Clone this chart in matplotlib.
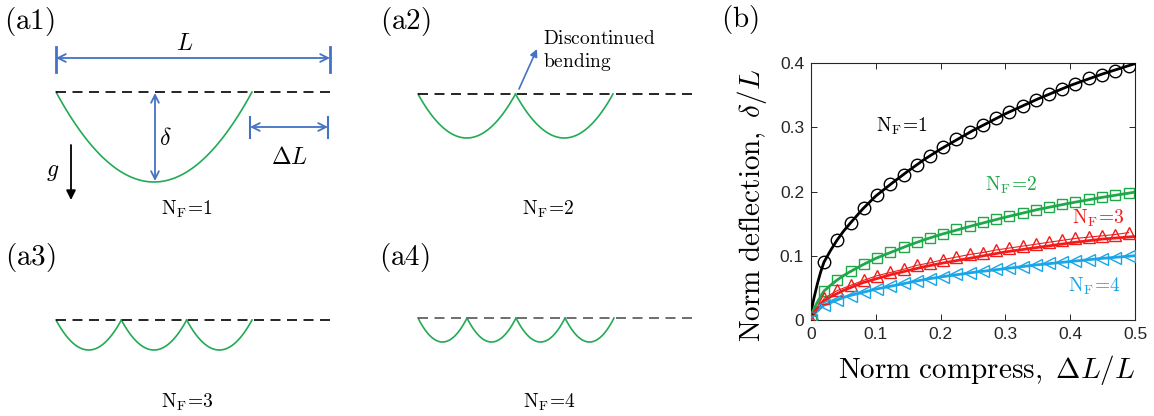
import numpy as np
import matplotlib
matplotlib.use("Agg")
import matplotlib.pyplot as plt

plt.rcParams['mathtext.fontset'] = 'cm'

# ---------------- data (panel b) ----------------
x_markers = [0, 0.0204, 0.0408, 0.0612, 0.0817, 0.102, 0.1225, 0.143, 0.163, 0.184,
             0.204, 0.2245, 0.245, 0.265, 0.286, 0.306, 0.327, 0.347, 0.367, 0.388,
             0.408, 0.429, 0.449, 0.469, 0.49]
nf1_markers = [0, 0.091, 0.125, 0.151, 0.174, 0.195, 0.211, 0.226, 0.242, 0.256, 0.269,
               0.282, 0.293, 0.304, 0.314, 0.324, 0.333, 0.343, 0.351, 0.360, 0.368,
               0.376, 0.381, 0.388, 0.395]
nf2_markers = [0, 0.045, 0.063, 0.076, 0.087, 0.097, 0.106, 0.113, 0.121, 0.128, 0.134,
               0.141, 0.147, 0.152, 0.157, 0.162, 0.167, 0.171, 0.176, 0.180, 0.184,
               0.188, 0.191, 0.194, 0.197]
nf3_markers = [0, 0.034, 0.046, 0.054, 0.062, 0.069, 0.074, 0.079, 0.085, 0.089, 0.094,
               0.098, 0.102, 0.105, 0.109, 0.112, 0.115, 0.118, 0.121, 0.124, 0.127,
               0.129, 0.131, 0.133, 0.136]
nf4_markers = [0, 0.023, 0.031, 0.038, 0.044, 0.049, 0.053, 0.057, 0.061, 0.064, 0.067,
               0.071, 0.073, 0.076, 0.079, 0.081, 0.083, 0.086, 0.088, 0.090, 0.092,
               0.094, 0.095, 0.097, 0.099]

x_line = [0, 0.002, 0.005, 0.01, 0.015, 0.02, 0.03, 0.04, 0.05, 0.06, 0.08, 0.1, 0.125,
          0.15, 0.175, 0.2, 0.25, 0.3, 0.35, 0.4, 0.45, 0.5]
nf1_line = [0, 0.022, 0.036, 0.057, 0.075, 0.090, 0.108, 0.124, 0.138, 0.150, 0.173,
            0.193, 0.213, 0.232, 0.250, 0.266, 0.295, 0.321, 0.344, 0.365, 0.383, 0.399]
nf2_line = [0, 0.011, 0.018, 0.028, 0.037, 0.045, 0.054, 0.062, 0.069, 0.075, 0.086,
            0.096, 0.106, 0.116, 0.125, 0.133, 0.147, 0.160, 0.172, 0.182, 0.191, 0.199]
nf3_line = [0, 0.007, 0.012, 0.019, 0.025, 0.030, 0.036, 0.041, 0.046, 0.050, 0.058,
            0.064, 0.071, 0.077, 0.083, 0.088, 0.097, 0.106, 0.113, 0.120, 0.126, 0.130]
nf4_line = [0, 0.006, 0.009, 0.014, 0.019, 0.023, 0.027, 0.031, 0.035, 0.038, 0.043,
            0.048, 0.053, 0.058, 0.063, 0.067, 0.074, 0.080, 0.086, 0.091, 0.096, 0.100]

series_labels = [r'$\mathrm{N_F\!=\!1}$', r'$\mathrm{N_F\!=\!2}$',
                 r'$\mathrm{N_F\!=\!3}$', r'$\mathrm{N_F\!=\!4}$']
x_ticks = [0, 0.1, 0.2, 0.3, 0.4, 0.5]
x_ticklabels = ['0', '0.1', '0.2', '0.3', '0.4', '0.5']
y_ticks = [0, 0.1, 0.2, 0.3, 0.4]
y_ticklabels = ['0', '0.1', '0.2', '0.3', '0.4']

# ---------------- schematic data (panels a1-a4), pixel units ----------------
n_folds = [1, 2, 3, 4]
arc_start = [56, 418, 56, 418]
arc_end = [252, 613, 252, 614]
base_y = [92, 94, 320, 318]
arc_depth = [90, 44, 30, 24]
dash_end = [330, 692, 330, 692]

C_BLACK = 'black'
C_GREEN = '#1fa84a'
C_RED = '#f01c1c'
C_BLUE = '#1aa6e6'
C_ARC = '#22aa55'
C_ARROW = '#4472c4'

fig = plt.figure(figsize=(11.54, 4.16), dpi=100)

# ---------- schematic canvas ----------
ax0 = fig.add_axes([0, 0, 1, 1])
ax0.set_xlim(0, 1154)
ax0.set_ylim(416, 0)
ax0.axis('off')

for i, n in enumerate(n_folds):
    dcol = '#555555' if n == 4 else 'black'
    ax0.plot([arc_start[i], dash_end[i]], [base_y[i], base_y[i]], color=dcol,
             lw=1.2, dashes=(6, 3.9), zorder=3)
    w = (arc_end[i] - arc_start[i]) / n
    for k in range(n):
        a = arc_start[i] + k * w
        t = np.linspace(-1, 1, 60)
        xs = a + (t + 1) / 2 * w
        ys = base_y[i] + arc_depth[i] * (1 - t ** 2)
        ax0.plot(xs, ys, color=C_ARC, lw=1.2, zorder=2)

tkw = dict(fontsize=14, ha='center', va='center')
ax0.text(187, 209, series_labels[0], **tkw)
ax0.text(548, 209, series_labels[1], **tkw)
ax0.text(187, 402, series_labels[2], **tkw)
ax0.text(550, 402, series_labels[3], **tkw)

plk = dict(fontsize=21, ha='center', va='center')
ax0.text(29, 21, r'$\mathrm{(a1)}$', **plk)
ax0.text(405, 21, r'$\mathrm{(a2)}$', **plk)
ax0.text(30, 257, r'$\mathrm{(a3)}$', **plk)
ax0.text(404, 257, r'$\mathrm{(a4)}$', **plk)
ax0.text(740, 20, r'$\mathrm{(b)}$', **plk)

# dimension arrows in a1
akw = dict(arrowstyle='<->', color=C_ARROW, lw=1.3, shrinkA=0, shrinkB=0,
           mutation_scale=14)
ax0.annotate('', xy=(330, 58), xytext=(56, 58), arrowprops=akw)
ax0.plot([56, 56], [47, 72], color=C_ARROW, lw=2)
ax0.plot([330, 330], [47, 72], color=C_ARROW, lw=2)
ax0.text(185, 43, r'$L$', fontsize=17, ha='center', va='center')

ax0.annotate('', xy=(155, 181), xytext=(155, 93), arrowprops=akw)
ax0.text(165, 138, r'$\delta$', fontsize=17, ha='center', va='center')

ax0.annotate('', xy=(328, 127), xytext=(250, 127), arrowprops=akw)
ax0.plot([250, 250], [117, 138], color=C_ARROW, lw=1.5)
ax0.plot([328, 328], [117, 138], color=C_ARROW, lw=1.5)
ax0.text(289, 157, r'$\Delta L$', fontsize=17, ha='center', va='center')

ax0.annotate('', xy=(71, 200), xytext=(71, 145),
             arrowprops=dict(arrowstyle='-|>', color='black', lw=1.3,
                             shrinkA=0, shrinkB=0, mutation_scale=14))
ax0.text(53, 171, r'$g$', fontsize=17, ha='center', va='center')

ax0.annotate('', xy=(537, 49), xytext=(519, 89),
             arrowprops=dict(arrowstyle='-|>', color=C_ARROW, lw=1.2,
                             shrinkA=0, shrinkB=0, mutation_scale=11))
ax0.text(543, 38, r'$\mathrm{Discontinued}$', fontsize=14, ha='left', va='center')
ax0.text(543, 62, r'$\mathrm{bending}$', fontsize=14, ha='left', va='center')

# ---------- panel b ----------
ax = fig.add_axes([811 / 1154, 1 - 320 / 416, 324 / 1154, 257 / 416])

ax.plot(x_line, nf1_line, color=C_BLACK, lw=2.0, zorder=4)
ax.plot(x_markers, nf1_markers, ls='none', marker='o', ms=9, mfc='none',
        mec=C_BLACK, mew=1.0, zorder=5)
ax.plot(x_line, nf2_line, color=C_GREEN, lw=2.0, zorder=4)
ax.plot(x_markers, nf2_markers, ls='none', marker='s', ms=7, mfc='none',
        mec=C_GREEN, mew=1.0, zorder=5)
ax.plot(x_line, nf3_line, color=C_RED, lw=2.0, zorder=4)
ax.plot(x_markers, nf3_markers, ls='-', lw=0.8, marker='^', ms=9, mfc='none',
        mec=C_RED, color=C_RED, mew=1.0, zorder=5)
ax.plot(x_line, nf4_line, color=C_BLUE, lw=2.0, zorder=4)
ax.plot(x_markers, nf4_markers, ls='none', marker='<', ms=9, mfc='none',
        mec=C_BLUE, mew=1.0, zorder=5)

ax.set_xlim(0, 0.5)
ax.set_ylim(0, 0.4)
ax.set_xticks(x_ticks)
ax.set_xticklabels(x_ticklabels)
ax.set_yticks(y_ticks)
ax.set_yticklabels(y_ticklabels)
ax.tick_params(direction='in', top=True, right=True, length=4, width=0.7,
               colors='#262626', labelsize=12.5, pad=5)
for lab in ax.get_xticklabels() + ax.get_yticklabels():
    lab.set_fontfamily('Liberation Sans')
for s in ax.spines.values():
    s.set_color('#262626')
    s.set_linewidth(0.8)

ax.text(0.141, 0.301, series_labels[0], color=C_BLACK, fontsize=14, ha='center', va='center')
ax.text(0.309, 0.209, series_labels[1], color=C_GREEN, fontsize=14, ha='center', va='center')
ax.text(0.444, 0.159, series_labels[2], color=C_RED, fontsize=14, ha='center', va='center')
ax.text(0.437, 0.052, series_labels[3], color=C_BLUE, fontsize=14, ha='center', va='center')

fig.text(987 / 1154, 1 - 370 / 416, r'$\mathrm{Norm\ compress,}\ \Delta L/L$',
         fontsize=21, ha='center', va='center')
fig.text(752 / 1154, 1 - 205 / 416, r'$\mathrm{Norm\ deflection,}\ \delta/L$',
         fontsize=21, ha='center', va='center', rotation=90)

fig.savefig('out.png', dpi=100)
